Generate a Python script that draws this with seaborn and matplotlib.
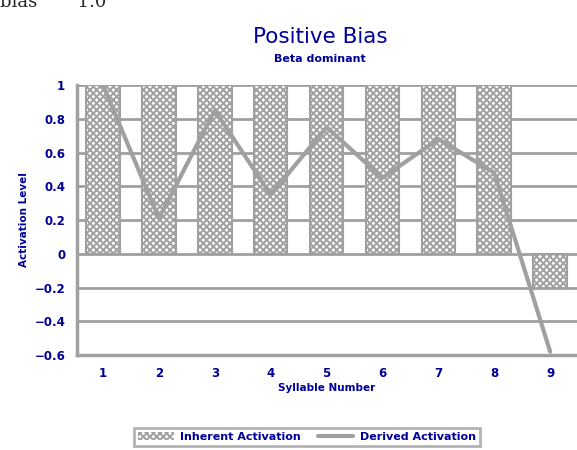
import pandas as pd
import seaborn as sns
import matplotlib
matplotlib.use("Agg")
import matplotlib.pyplot as plt
from matplotlib.patches import Patch
from matplotlib.lines import Line2D

# data
syllables = [1, 2, 3, 4, 5, 6, 7, 8, 9]
inherent = [1, 1, 1, 1, 1, 1, 1, 1, -0.2]
derived = [1.0, 0.21, 0.85, 0.35, 0.75, 0.45, 0.68, 0.48, -0.58]
y_ticks = [1, 0.8, 0.6, 0.4, 0.2, 0, -0.2, -0.4, -0.6]

df = pd.DataFrame({"syllable": syllables, "inherent": inherent, "derived": derived})

navy = "#000099"
gray = "#a0a0a0"

sns.set_style("white")
plt.rcParams["font.family"] = ["DejaVu Sans"]
plt.rcParams["hatch.color"] = gray
plt.rcParams["hatch.linewidth"] = 1.4

fig = plt.figure(figsize=(5.77, 4.5), dpi=100)
ax = fig.add_axes([0.1334, 0.211, 0.8666, 0.6])

# bars with cross hatch
sns.barplot(data=df, x="syllable", y="inherent", native_scale=True, width=0.6,
            color="white", edgecolor=gray, linewidth=1.5, hatch="xxxxx", ax=ax, zorder=2)
# derived activation line
sns.lineplot(data=df, x="syllable", y="derived", color=gray, linewidth=3, ax=ax, zorder=3)

ax.set_xlim(0.535, 9.48)
ax.set_ylim(-0.6, 1.0)
ax.set_xticks(syllables)
ax.set_yticks(y_ticks)
ax.set_xticklabels([str(s) for s in syllables])
ax.set_yticklabels(["1", "0.8", "0.6", "0.4", "0.2", "0", "\u22120.2", "\u22120.4", "\u22120.6"])

ax.grid(axis="y", color=gray, linewidth=2, zorder=0)
ax.set_axisbelow(True)
for side in ["top", "right"]:
    ax.spines[side].set_visible(False)
for side in ["left", "bottom"]:
    ax.spines[side].set_color(gray)
    ax.spines[side].set_linewidth(2.5)
ax.tick_params(axis="both", colors=gray, width=2, length=5, labelcolor=navy, labelsize=8.5)
for lbl in ax.get_xticklabels() + ax.get_yticklabels():
    lbl.set_fontweight("bold")

ax.set_xlabel("Syllable Number", color=navy, fontsize=7.5, fontweight="bold", labelpad=2)
ax.set_ylabel("Activation Level", color=navy, fontsize=7.5, fontweight="bold", labelpad=4)

fig.text(0.555, 0.918, "Positive Bias", color=navy, fontsize=15.5, ha="center", va="center")
fig.text(0.555, 0.87, "Beta dominant", color=navy, fontsize=8, fontweight="bold",
         ha="center", va="center")
# clipped note at the very top left, as in the reference
fig.text(0.0, 0.995, "bias       1.0", family="serif", fontsize=13, ha="left", va="center")

handles = [Patch(facecolor="white", edgecolor=gray, hatch="xxxxx", linewidth=0),
           Line2D([0], [0], color=gray, linewidth=3)]
leg = fig.legend(handles, ["Inherent Activation", "Derived Activation"], loc="lower center",
                 bbox_to_anchor=(0.532, 0.005), ncol=2, fancybox=False, frameon=True,
                 fontsize=8, handlelength=3.2, handletextpad=0.6, columnspacing=1.5,
                 borderpad=0.35, borderaxespad=0.2)
leg.get_frame().set_edgecolor(gray)
leg.get_frame().set_linewidth(2)
for t in leg.get_texts():
    t.set_color(navy)
    t.set_fontweight("bold")

fig.savefig("out.png", dpi=100)
